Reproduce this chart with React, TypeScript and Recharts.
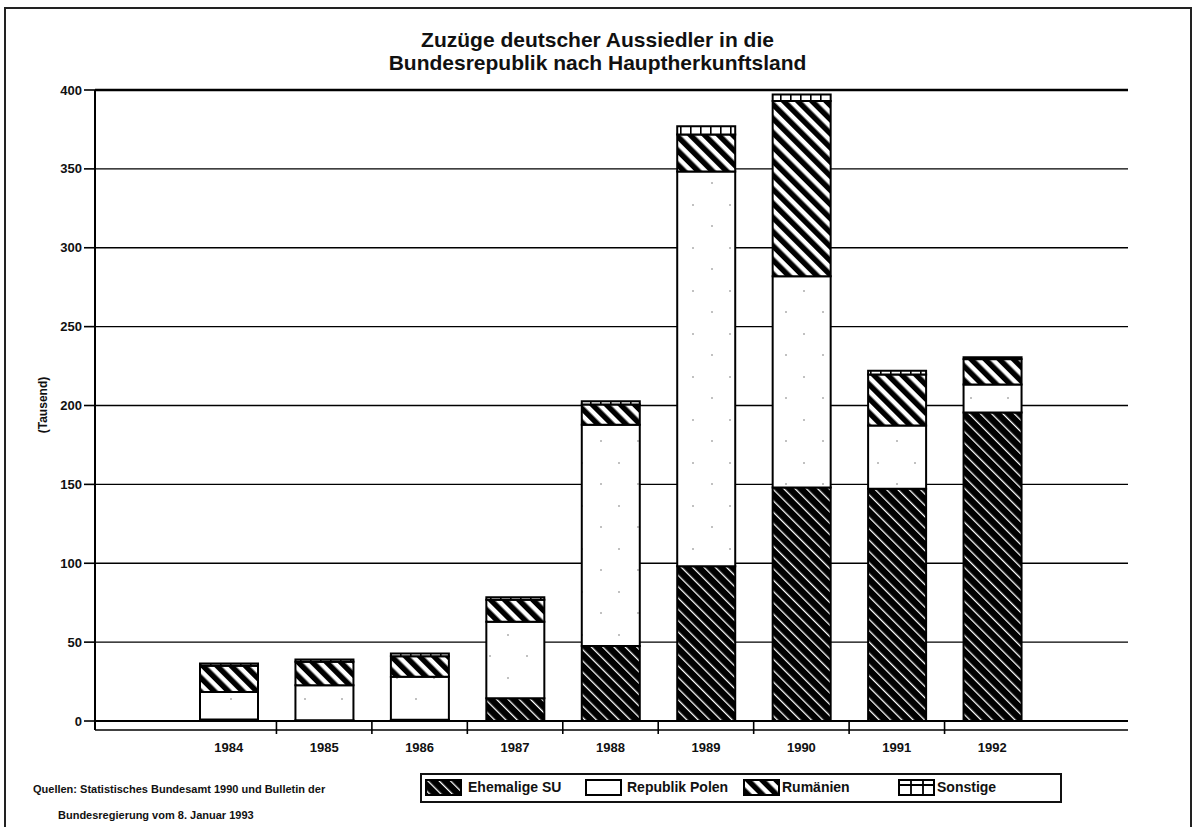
import React from 'react';
import { BarChart, Bar, XAxis, YAxis, CartesianGrid, ReferenceLine } from 'recharts';

const FONT = '"Liberation Sans", Arial, Helvetica, sans-serif';

// Values in thousands (Tausend)
const years = ['1984', '1985', '1986', '1987', '1988', '1989', '1990', '1991', '1992'];
const ehemaligeSU = [0.9, 0.5, 0.8, 14.5, 47.6, 98.1, 148.0, 147.3, 195.6];
const republikPolen = [17.5, 22.1, 27.2, 48.4, 140.2, 250.3, 133.9, 40.1, 17.7];
const rumaenien = [16.6, 14.9, 13.1, 14.0, 12.9, 23.4, 111.2, 32.2, 16.1];
const sonstige = [1.5, 1.5, 1.7, 1.6, 2.0, 5.2, 4.1, 2.4, 1.2];
const yTicks = [0, 50, 100, 150, 200, 250, 300, 350, 400];

const seriesKeys = ['su', 'pl', 'ro', 'so'];
const seriesNames = ['Ehemalige SU', 'Republik Polen', 'Rumänien', 'Sonstige'];
const seriesFills = ['url(#patSU)', 'url(#patPL)', 'url(#patRO)', 'url(#patSO)'];

const titleLines = ['Zuzüge deutscher Aussiedler in die', 'Bundesrepublik nach Hauptherkunftsland'];
const sourceLines = ['Quellen: Statistisches Bundesamt 1990 und Bulletin der', 'Bundesregierung vom 8. Januar 1993'];

const data = years.map((y, i) => ({
  year: y,
  su: ehemaligeSU[i],
  pl: republikPolen[i],
  ro: rumaenien[i],
  so: sonstige[i],
}));

const XTick = (props: any) => {
  const { x, y, payload, index } = props;
  const half = payload && typeof payload.offset === 'number' && payload.offset > 0 ? payload.offset : 47.7;
  return (
    <g>
      <text x={x} y={y + 22} textAnchor="middle" fontSize={13} fontWeight="bold" fontFamily={FONT} fill="#111">
        {payload.value}
      </text>
      {index < years.length - 1 && (
        <line x1={x + half} x2={x + half} y1={y - 9} y2={y + 4} stroke="#000" strokeWidth={1.6} />
      )}
    </g>
  );
};

const YLabel = (props: any) => {
  const vb = props.viewBox || { x: 35, y: 90, width: 60, height: 640 };
  const x = vb.x + 8;
  const cy = vb.y + vb.height / 2 - 5;
  return (
    <text
      x={x}
      y={cy}
      transform={`rotate(-90 ${x} ${cy})`}
      textAnchor="middle"
      dominantBaseline="central"
      fontSize={12}
      fontWeight="bold"
      fontFamily={FONT}
      fill="#111"
    >
      (Tausend)
    </text>
  );
};

const Swatch = ({ idx }: { idx: number }) => {
  const w = 37;
  const h = 17;
  return (
    <svg width={w} height={h} style={{ position: 'absolute', left: 0, top: 0 }}>
      <rect x={1} y={1} width={w - 2} height={h - 2} fill={idx === 3 ? '#fff' : idx === 1 ? '#fff' : seriesFills[idx]} stroke="#000" strokeWidth={2} />
      {idx === 3 && (
        <g stroke="#000" strokeWidth={1.8}>
          <line x1={1} x2={w - 1} y1={6} y2={6} />
          <line x1={13} x2={13} y1={1} y2={h - 1} />
          <line x1={25} x2={25} y1={1} y2={h - 1} />
        </g>
      )}
    </svg>
  );
};

const legendSwatchLeft = [3, 163, 321, 476];
const legendTextLeft = [46, 205, 360, 515];

export default function App() {
  return (
    <div style={{ position: 'absolute', left: 0, top: 0, width: 1195, height: 827, background: '#fff', overflow: 'hidden', fontFamily: FONT }}>
      <svg width={0} height={0} style={{ position: 'absolute', left: 0, top: 0 }}>
        <defs>
          <pattern id="patSU" patternUnits="userSpaceOnUse" width={8} height={8} patternTransform="rotate(-45)">
            <rect x={0} y={0} width={8} height={8} fill="#000" />
            <rect x={0} y={0} width={1.3} height={8} fill="#fff" />
          </pattern>
          <pattern id="patRO" patternUnits="userSpaceOnUse" width={10} height={10} patternTransform="rotate(-45)">
            <rect x={0} y={0} width={10} height={10} fill="#fff" />
            <rect x={0} y={0} width={5.5} height={10} fill="#000" />
          </pattern>
          <pattern id="patPL" patternUnits="userSpaceOnUse" width={37} height={43}>
            <rect x={0} y={0} width={37} height={43} fill="#fff" />
            <circle cx={9} cy={11} r={0.7} fill="#555" />
            <circle cx={27} cy={33} r={0.7} fill="#555" />
          </pattern>
          <pattern id="patSO" patternUnits="userSpaceOnUse" width={10} height={12}>
            <rect x={0} y={0} width={10} height={12} fill="#fff" />
            <rect x={0} y={0} width={1.6} height={12} fill="#000" />
          </pattern>
        </defs>
      </svg>

      <div style={{ position: 'absolute', left: 4, top: 7, width: 1188, height: 900, border: '2px solid #222', boxSizing: 'border-box' }} />

      <div style={{ position: 'absolute', left: 0, top: 28, width: 1195, textAlign: 'center', fontSize: 21, fontWeight: 'bold', lineHeight: '23px', color: '#111' }}>
        <div>{titleLines[0]}</div>
        <div>{titleLines[1]}</div>
      </div>

      <div style={{ position: 'absolute', left: 0, top: 0 }}>
        <BarChart
          width={1195}
          height={827}
          data={data}
          margin={{ top: 90, right: 67, bottom: 67, left: 35 }}
          barSize={58}
        >
          <CartesianGrid vertical={false} stroke="#000" strokeWidth={1.4} strokeOpacity={1} />
          <XAxis
            dataKey="year"
            padding={{ left: 86, right: 88 }}
            axisLine={false}
            tickLine={false}
            tickSize={0}
            tickMargin={0}
            interval={0}
            height={30}
            tick={<XTick />}
          />
          <YAxis
            domain={[-5.7, 400]}
            allowDataOverflow
            ticks={yTicks}
            interval={0}
            width={60}
            tickSize={11}
            tickMargin={2}
            axisLine={{ stroke: '#000', strokeWidth: 2 }}
            tickLine={{ stroke: '#000', strokeWidth: 1.6 }}
            tick={{ fontSize: 13, fontWeight: 'bold', fill: '#111', fontFamily: FONT }}
            label={{ content: <YLabel /> }}
          />
          <YAxis
            yAxisId="r"
            orientation="right"
            domain={[-5.7, 400]}
            allowDataOverflow
            width={0}
            tick={false}
            tickLine={false}
            axisLine={{ stroke: '#000', strokeWidth: 2 }}
          />
          <ReferenceLine y={0} stroke="#000" strokeWidth={2} />
          <ReferenceLine y={400} stroke="#000" strokeWidth={2.6} />
          {seriesKeys.map((k, i) => (
            <Bar
              key={k}
              dataKey={k}
              name={seriesNames[i]}
              stackId="a"
              fill={seriesFills[i]}
              stroke="#000"
              strokeWidth={2}
              isAnimationActive={false}
            />
          ))}
        </BarChart>
      </div>

      <div style={{ position: 'absolute', left: 420, top: 773, width: 642, height: 30, border: '2px solid #111', boxSizing: 'border-box' }}>
        {seriesNames.map((n, i) => (
          <React.Fragment key={n}>
            <div style={{ position: 'absolute', left: legendSwatchLeft[i], top: 4, width: 37, height: 17 }}>
              <Swatch idx={i} />
            </div>
            <div style={{ position: 'absolute', left: legendTextLeft[i], top: 4, fontSize: 14, fontWeight: 'bold', lineHeight: '17px', color: '#111', whiteSpace: 'nowrap' }}>
              {n}
            </div>
          </React.Fragment>
        ))}
      </div>

      <div style={{ position: 'absolute', left: 33, top: 781, fontSize: 11, fontWeight: 'bold', lineHeight: '16px', color: '#111', whiteSpace: 'nowrap' }}>
        {sourceLines[0]}
      </div>
      <div style={{ position: 'absolute', left: 58, top: 807, fontSize: 11, fontWeight: 'bold', lineHeight: '16px', color: '#111', whiteSpace: 'nowrap' }}>
        {sourceLines[1]}
      </div>
    </div>
  );
}
